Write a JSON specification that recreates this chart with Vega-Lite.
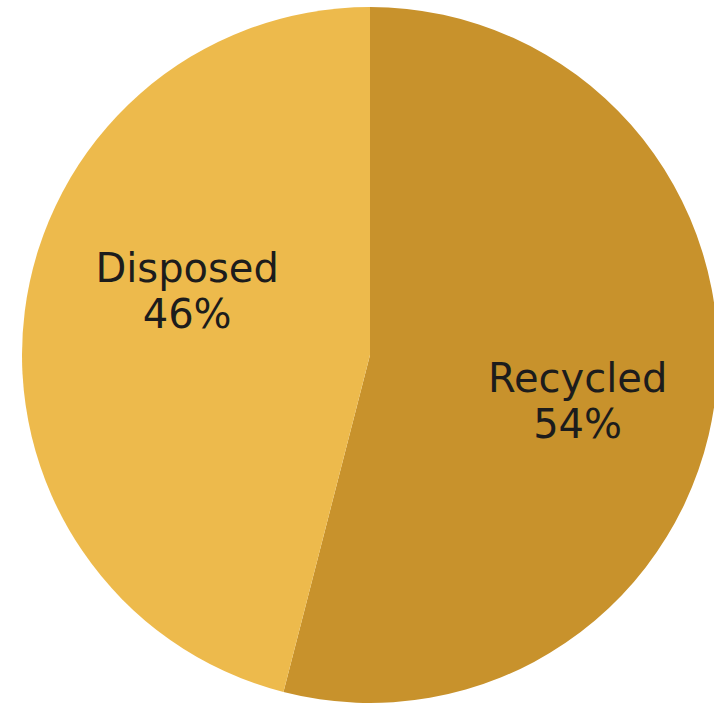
{
  "$schema": "https://vega.github.io/schema/vega-lite/v6.json",
  "width": 688,
  "height": 696,
  "autosize": "none",
  "padding": {"left": 26, "top": 7, "right": 0, "bottom": 1},
  "background": "white",
  "view": {"stroke": null},
  "data": {
    "values": [
      {"category": "Recycled", "share": 0.54},
      {"category": "Disposed", "share": 0.46}
    ]
  },
  "encoding": {
    "theta": {"field": "share", "type": "quantitative", "stack": true},
    "order": {"field": "share", "type": "quantitative", "sort": "descending"}
  },
  "layer": [
    {
      "mark": {"type": "arc", "radius": 348, "stroke": null},
      "encoding": {
        "color": {
          "field": "category",
          "type": "nominal",
          "scale": {"domain": ["Recycled", "Disposed"], "range": ["#C8922C", "#EDBA4C"]},
          "legend": null
        }
      }
    },
    {
      "mark": {
        "type": "text",
        "font": "DejaVu Sans",
        "fontSize": 40,
        "color": "#1c1c1c",
        "radius": {"expr": "datum.category === 'Disposed' ? 193 : 213"},
        "thetaOffset": {"expr": "datum.category === 'Disposed' ? 0.2 : 0.1"},
        "dy": -23
      },
      "encoding": {"text": {"field": "category", "type": "nominal"}}
    },
    {
      "mark": {
        "type": "text",
        "font": "DejaVu Sans",
        "fontSize": 40,
        "color": "#1c1c1c",
        "radius": {"expr": "datum.category === 'Disposed' ? 193 : 213"},
        "thetaOffset": {"expr": "datum.category === 'Disposed' ? 0.2 : 0.1"},
        "dy": 23
      },
      "encoding": {"text": {"field": "share", "type": "quantitative", "format": ".0%"}}
    }
  ]
}
